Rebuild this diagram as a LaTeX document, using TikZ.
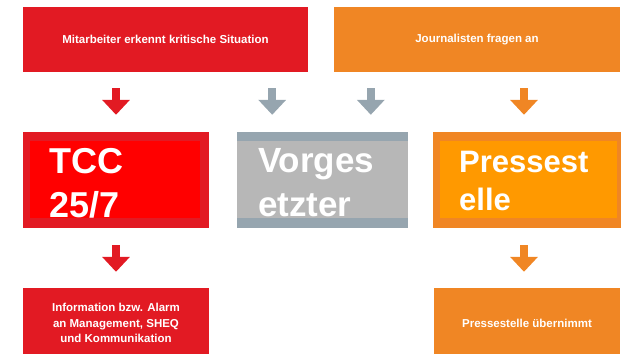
\documentclass[tikz,border=0pt]{standalone}
\usepackage{fontspec}
\setmainfont{Liberation Sans}
\usetikzlibrary{arrows.meta,positioning,calc}
\definecolor{vred}{RGB}{226,26,35}
\definecolor{vorange}{RGB}{240,134,36}
\definecolor{vgray}{RGB}{150,165,175}
\definecolor{tccred}{RGB}{255,0,0}
\definecolor{lgray}{RGB}{183,183,183}
\definecolor{porange}{RGB}{255,153,0}
\tikzset{
  box/.style={rectangle,inner sep=0pt,text=white,align=center,font=\fontsize{11.5}{15.5}\selectfont\bfseries},
  outbox/.style={rectangle,inner sep=0pt},
  bigtxt/.style={text=white,inner sep=0pt,align=left,anchor=base west},
  blkarr/.style={line width=8pt,-{Triangle[width=27pt,length=15pt]},shorten <=16pt,shorten >=17pt}
}

\begin{document}
\begin{tikzpicture}[x=1pt,y=-1pt]
\useasboundingbox (0,0) rectangle (631,353);
\clip (0,0) rectangle (631,353);
% top row
\node[box,fill=vred,minimum width=285pt,minimum height=65pt] (mit) at (165.5,39.5) {Mitarbeiter erkennt kritische Situation};
\node[box,fill=vorange,minimum width=286pt,minimum height=65pt] (jour) at (477,39.5) {Journalisten fragen an};
% middle row
\node[outbox,fill=vred,minimum width=186pt,minimum height=96pt] (tcc) at (116,180) {};
\node[outbox,fill=tccred,minimum width=170pt,minimum height=77pt] (tccin) at (115,179.5) {};
\node[bigtxt,font=\fontsize{36}{44}\selectfont\bfseries] (tcctxt) at (49,217) {TCC\\25/7};
\node[outbox,fill=vgray,minimum width=171pt,minimum height=96pt] (vor) at (322.5,180) {};
\node[outbox,fill=lgray,minimum width=171pt,minimum height=77pt] (vorin) at (322.5,179.5) {};
\node[bigtxt,font=\fontsize{35}{44}\selectfont\bfseries] (vortxt) at (258,216) {Vorges\\etzter};
\node[outbox,fill=vorange,minimum width=188pt,minimum height=96pt] (press) at (527,180) {};
\node[outbox,fill=porange,minimum width=177pt,minimum height=77pt] (pressin) at (528.5,179.5) {};
\node[bigtxt,font=\fontsize{31}{38}\selectfont\bfseries] (presstxt) at (459,210) {Pressest\\elle};
% bottom row
\node[box,fill=vred,minimum width=186pt,minimum height=70pt] (info) at (116,323) {Information bzw. Alarm\\an Management, SHEQ\\und Kommunikation};
\node[box,fill=vorange,minimum width=186pt,minimum height=70pt] (pres) at (527,323) {Pressestelle übernimmt};
% arrows
\coordinate (g1) at ([xshift=-36pt]mit.south east);
\coordinate (g2) at ([xshift=37pt]jour.south west);
\draw[blkarr,vred] (mit.south -| tcc.north) -- (tcc.north);
\draw[blkarr,vgray] (g1) -- (g1 |- vor.north);
\draw[blkarr,vgray] (g2) -- (g2 |- vor.north);
\draw[blkarr,vorange] ([xshift=-3pt]jour.south -| press.north) -- ([xshift=-3pt]press.north);
\draw[blkarr,vred,shorten <=17pt,shorten >=16pt] (tcc.south) -- (info.north);
\draw[blkarr,vorange,shorten <=17pt,shorten >=16pt] ([xshift=-3pt]press.south) -- ([xshift=-3pt]pres.north);
\end{tikzpicture}
\end{document}
